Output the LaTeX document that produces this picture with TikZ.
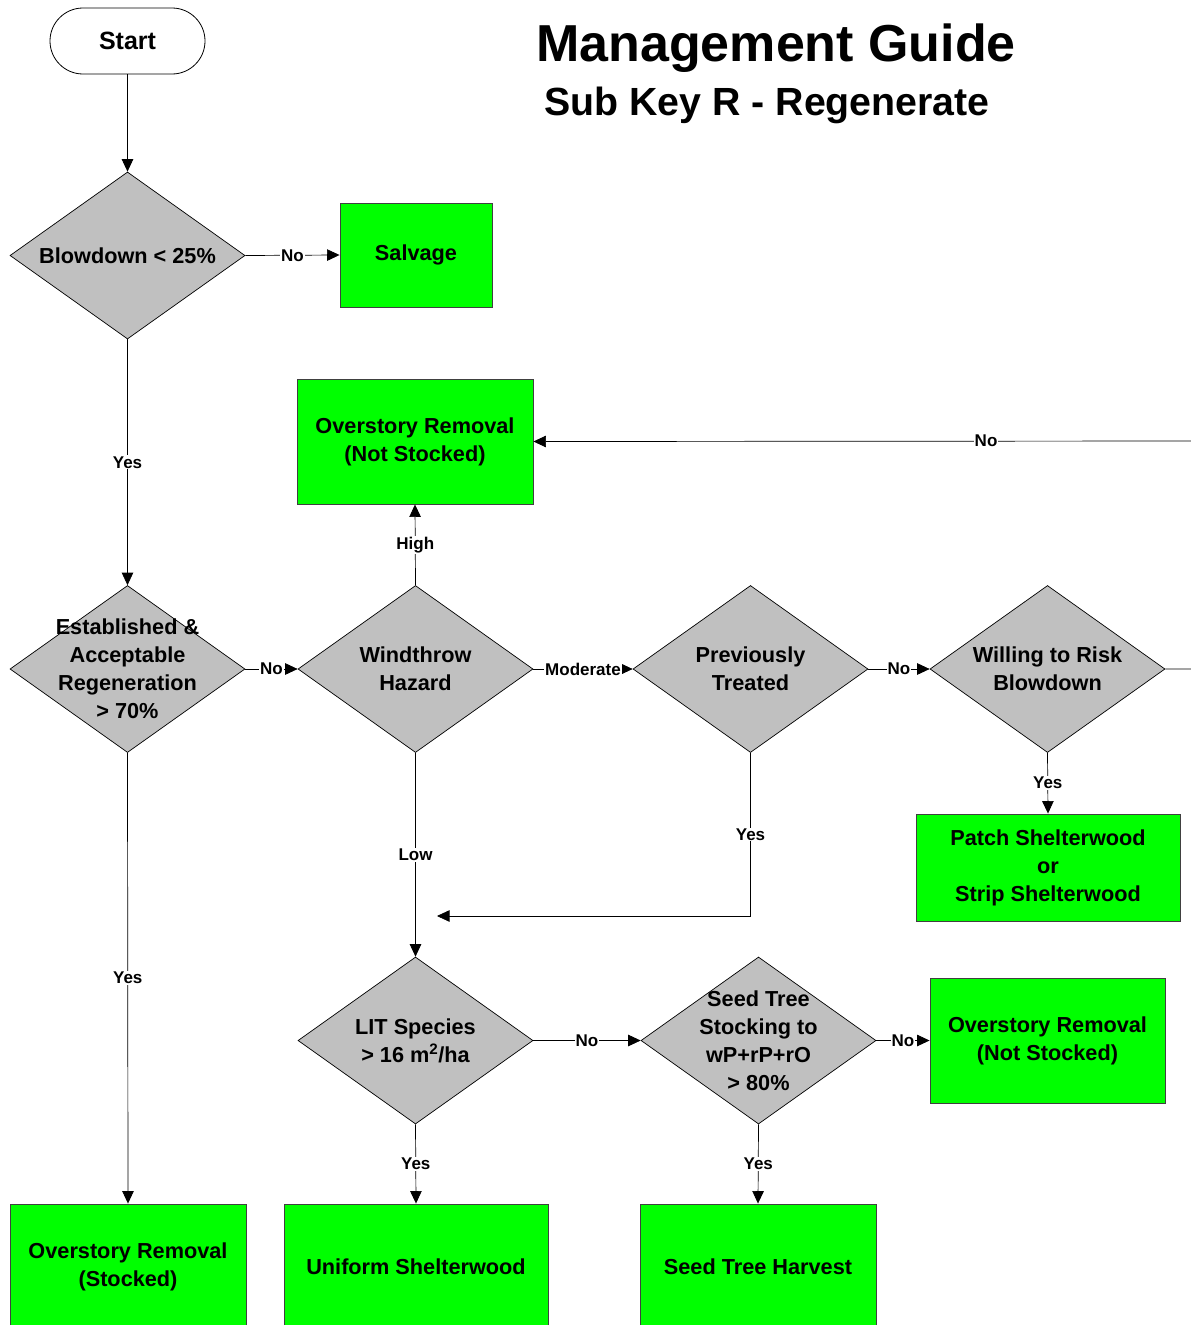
\documentclass[tikz,border=0pt]{standalone}
\usepackage{fontspec}
\setmainfont{Liberation Sans}
\usetikzlibrary{shapes.geometric,arrows.meta}
\definecolor{decgray}{HTML}{C0C0C0}
\definecolor{endgreen}{HTML}{00FF00}
\begin{document}
\begin{tikzpicture}[x=1pt,y=-1pt,
  dtext/.style={align=center,font=\bfseries\fontsize{21.7}{28}\selectfont},
  dec/.style={shape=diamond,draw=black,fill=decgray,line width=0.7pt,
    minimum width=235pt,minimum height=167pt,inner sep=0pt},
  endbox/.style={rectangle,draw=black!75,fill=endgreen,line width=0.9pt,
    inner sep=0pt,align=center,font=\bfseries\fontsize{21.7}{28}\selectfont},
  lab/.style={fill=white,inner sep=1pt,font=\bfseries\fontsize{17}{20}\selectfont},
  arr/.style={-{Triangle[length=12.5pt,width=11.5pt]},line width=0.7pt},
  ttl/.style={anchor=base,inner sep=0pt}]
\clip (0,0) rectangle (1191,1325);
\fill[white] (0,0) rectangle (1191,1325);

% titles
\node[ttl,font=\bfseries\fontsize{52}{60}\selectfont] (t1) at (776,61) {Management Guide};
\node[ttl,font=\bfseries\fontsize{39.3}{46}\selectfont] (t2) at (767,115) {Sub Key R - Regenerate};

% start
\node[rectangle,rounded corners=33pt,draw=black,line width=0.8pt,fill=white,
  minimum width=155pt,minimum height=66pt,inner sep=0pt,
  font=\bfseries\fontsize{25}{30}\selectfont] (start) at (127.5,41) {Start};

% decisions
\node[dec,label={[dtext]center:{Blowdown < 25\%}}] (d1) at (127.5,255.5) {};
\node[dec,label={[dtext]center:{Established \&\\Acceptable\\Regeneration\\> 70\%}}] (d2) at (127.5,669) {};
\node[dec,label={[dtext]center:{Windthrow\\Hazard}}] (wt) at (415.5,669) {};
\node[dec,label={[dtext]center:{Previously\\Treated}}] (pt) at (750.5,669) {};
\node[dec,label={[dtext]center:{Willing to Risk\\Blowdown}}] (wr) at (1047.5,669) {};
\node[dec,label={[dtext]center:{LIT Species\\> 16 m\textsuperscript{2}/ha}}] (lit) at (415.5,1040.5) {};
\node[dec,label={[dtext]center:{Seed Tree\\Stocking to\\wP+rP+rO\\> 80\%}}] (st) at (758.5,1040.5) {};

% end boxes
\node[endbox,minimum width=152pt,minimum height=104pt] (salv) at (416,255) {Salvage};
\node[endbox,minimum width=236pt,minimum height=125pt] (or1) at (415,441.5) {Overstory Removal\\(Not Stocked)};
\node[endbox,minimum width=264pt,minimum height=107pt] (patch) at (1048,867.5) {Patch Shelterwood\\or\\Strip Shelterwood};
\node[endbox,minimum width=235pt,minimum height=125pt] (or2) at (1047.5,1040.5) {Overstory Removal\\(Not Stocked)};
\node[endbox,minimum width=236pt,minimum height=125pt] (ors) at (128,1266.5) {Overstory Removal\\(Stocked)};
\node[endbox,minimum width=264pt,minimum height=125pt] (us) at (416,1266.5) {Uniform Shelterwood};
\node[endbox,minimum width=236pt,minimum height=125pt] (sth) at (758,1266.5) {Seed Tree Harvest};

% helper coordinates
\coordinate (rt1) at (1210,669);
\coordinate (rt2) at (1210,441);
\coordinate (ptc) at (750.5,916);
\coordinate (ptend) at (437,916);

% connectors
\draw[arr] (start.south) -- (d1.north);
\draw[arr] (d1.east) -- node[lab]{No} (salv.west);
\draw[arr] (d1.south) -- node[lab]{Yes} (d2.north);
\draw[arr] (d2.east) -- node[lab]{No} (wt.west);
\draw[arr] (d2.south) -- node[lab]{Yes} (ors.north);
\draw[arr] (wt.north) -- node[lab]{High} (or1.south);
\draw[arr] (wt.east) -- node[lab]{Moderate} (pt.west);
\draw[arr] (wt.south) -- node[lab]{Low} (lit.north);
\draw[arr] (pt.east) -- node[lab]{No} (wr.west);
\draw[arr] (pt.south) -- node[lab]{Yes} (ptc) -- (ptend);
\draw[arr] (wr.south) -- node[lab]{Yes} (patch.north);
\draw[arr] (wr.east) -- (rt1) -- (rt2) -- node[lab,pos=0.331]{No} (or1.east);
\draw[arr] (lit.east) -- node[lab]{No} (st.west);
\draw[arr] (lit.south) -- node[lab]{Yes} (us.north);
\draw[arr] (st.east) -- node[lab]{No} (or2.west);
\draw[arr] (st.south) -- node[lab]{Yes} (sth.north);
\end{tikzpicture}
\end{document}
